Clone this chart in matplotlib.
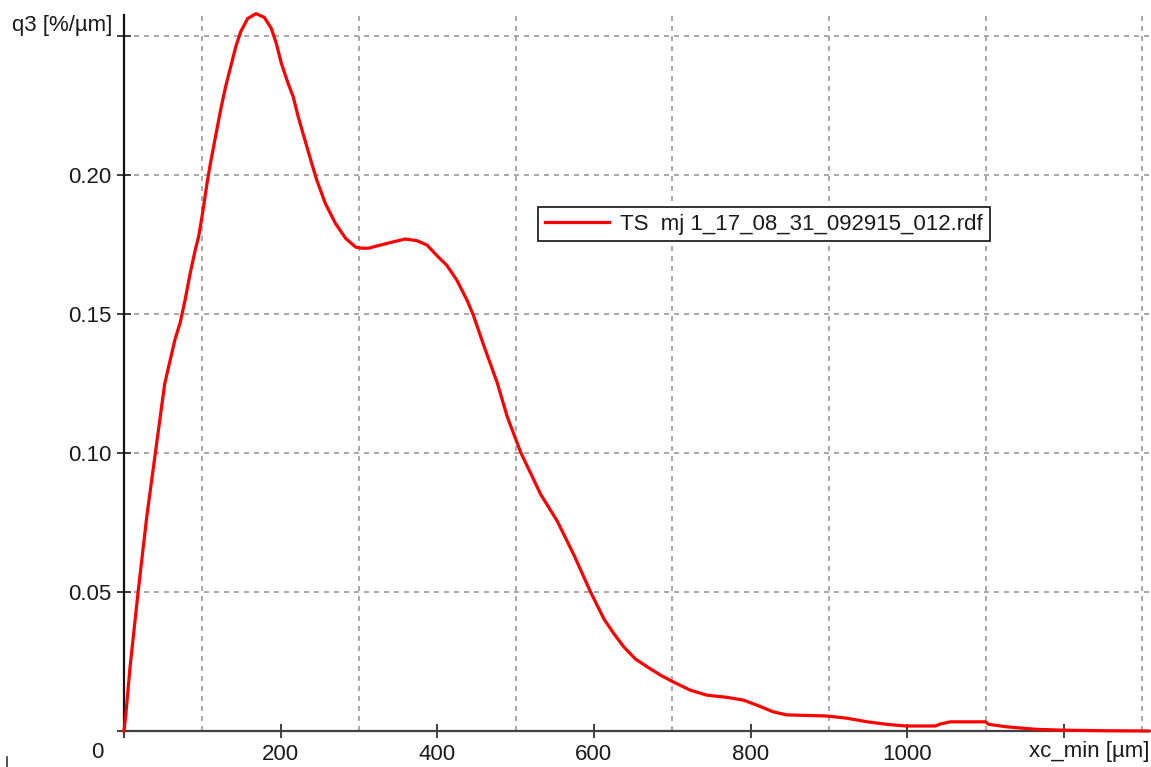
import matplotlib
matplotlib.use("Agg")
import matplotlib.pyplot as plt
from matplotlib.lines import Line2D
import numpy as np

# data
x_um = [0, 2.5, 7.7, 18, 29, 40, 52, 65, 71.6, 78, 84.5, 91, 95.3, 99.6, 106, 110.3,
        116.8, 123.3, 129.7, 136.2, 142.7, 149, 157.8, 168.5, 179.3, 188, 194.4, 200.9,
        209.5, 216, 222.4, 231, 239.7, 246, 256.9, 269.8, 282.8, 295.7, 304, 312, 327,
        344, 359, 374, 387, 401, 412, 425, 438, 446, 459.6, 476.6, 489.4, 506.4, 531.9,
        553.2, 574.5, 595.7, 612.8, 625, 638, 653, 668, 685, 701, 723, 744, 770, 791,
        808, 829, 846, 897, 923, 949, 974, 998, 1036, 1042, 1055, 1100, 1104, 1127,
        1165, 1199, 1250, 1308]
q3 = [0, 0.0065, 0.023, 0.05, 0.077, 0.10, 0.125, 0.1408, 0.1468, 0.1551, 0.1647,
      0.1731, 0.1779, 0.1851, 0.197, 0.2042, 0.2138, 0.2234, 0.2318, 0.239, 0.2462,
      0.2516, 0.2563, 0.2581, 0.2567, 0.2528, 0.2474, 0.2402, 0.233, 0.2282, 0.221,
      0.2126, 0.2042, 0.1983, 0.1899, 0.1827, 0.1773, 0.1741, 0.1737, 0.1737, 0.1748,
      0.176, 0.177, 0.1764, 0.1748, 0.1706, 0.1676, 0.1622, 0.155, 0.1496, 0.1385,
      0.1252, 0.113, 0.1003, 0.0852, 0.0755, 0.0633, 0.05, 0.0403, 0.0352, 0.0303,
      0.0259, 0.0231, 0.0201, 0.0177, 0.0147, 0.0129, 0.0121, 0.0111, 0.0093, 0.0069,
      0.0058, 0.0054, 0.0046, 0.0033, 0.0024, 0.0018, 0.0018, 0.0025, 0.0033, 0.0033,
      0.0024, 0.0015, 0.0006, 0.0003, 0.0001, 0.0]
series_label = "TS  mj 1_17_08_31_092915_012.rdf"
x_ticks = [0, 200, 400, 600, 800, 1000, 1200]
x_tick_labels = ["", "200", "400", "600", "800", "1000", ""]
y_ticks = [0, 0.05, 0.10, 0.15, 0.20, 0.25]
y_tick_labels = ["", "0.05", "0.10", "0.15", "0.20", ""]
x_label = "xc_min [µm]"
y_label = "q3 [%/µm]"

plt.rcParams['font.family'] = ['Liberation Sans', 'DejaVu Sans']
txt_color = '#1a1a1a'
fs = 16

fig = plt.figure(figsize=(11.51, 7.67), dpi=100)
ax = fig.add_axes([124/1151, 36/767, (1150-124)/1151, (731-15)/767])

ax.plot(x_um, q3, color='#ff0000', lw=2.3, label=series_label, clip_on=False,
        zorder=3, solid_joinstyle='round')

ax.set_xlim(0, 1310)
ax.set_ylim(0, 0.2576)

ax.set_xticks(x_ticks)
ax.set_xticklabels(x_tick_labels)
ax.set_xticks(np.arange(0, 1301, 100), minor=True)
ax.set_yticks(y_ticks)
ax.set_yticklabels(y_tick_labels)

ax.tick_params(axis='both', which='major', direction='inout', length=10, width=1.3,
               colors='#303030', labelcolor=txt_color, labelsize=fs)
ax.tick_params(axis='x', which='major', pad=4)
ax.tick_params(axis='y', which='major', pad=4)
ax.tick_params(axis='x', which='minor', length=0)

ax.grid(True, which='major', axis='y', color='#999999', linestyle=(0, (3, 3)), lw=1.2)
ax.grid(True, which='minor', axis='x', color='#999999', linestyle=(0, (3, 3)), lw=1.2)
ax.set_axisbelow(True)

for s in ['top', 'right']:
    ax.spines[s].set_visible(False)
ax.spines['left'].set_color('#111111')
ax.spines['left'].set_linewidth(1.6)
ax.spines['bottom'].set_color('#404040')
ax.spines['bottom'].set_linewidth(1.6)

# corner labels
fig.text(97/1151, 1 - 752/767, "0", ha='center', va='center', fontsize=fs, color=txt_color)
fig.text(1089/1151, 1 - 752/767, x_label, ha='center', va='center', fontsize=fs, color=txt_color)
fig.text(112/1151, 1 - 26/767, y_label, ha='right', va='center', fontsize=fs, color=txt_color)
fig.add_artist(Line2D([7/1151, 7/1151], [0, 10/767], color='#333333', lw=1.2))

leg = ax.legend(loc='upper left', bbox_to_anchor=((538-124)/1026, (731-207)/716),
                borderaxespad=0, fontsize=fs, frameon=True, fancybox=False,
                handlelength=2.9, handletextpad=0.5, borderpad=0.3)
leg.get_frame().set_edgecolor('#111111')
leg.get_frame().set_linewidth(1.2)
leg.get_frame().set_facecolor('white')
leg.get_frame().set_alpha(1)
for t in leg.get_texts():
    t.set_color(txt_color)

fig.savefig("out.png", dpi=100)
